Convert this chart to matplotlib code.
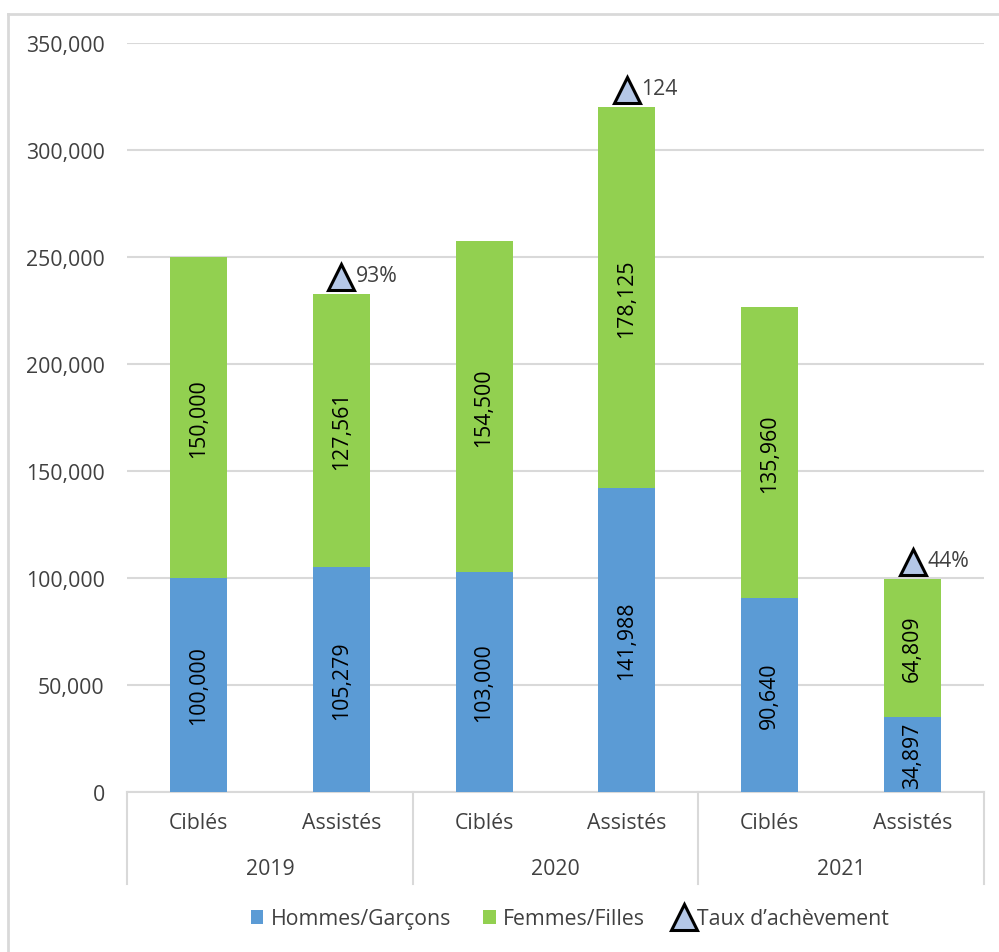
import matplotlib
matplotlib.use("Agg")
import matplotlib.pyplot as plt
from matplotlib.lines import Line2D
from matplotlib.patches import Patch
from matplotlib.ticker import FuncFormatter, MultipleLocator
from matplotlib.transforms import ScaledTranslation

plt.rcParams['font.family'] = ['Open Sans', 'DejaVu Sans']

# data
years = ['2019', '2020', '2021']
kinds = ['Ciblés', 'Assistés']
hommes = [100000, 105279, 103000, 141988, 90640, 34897]
femmes = [150000, 127561, 154500, 178125, 135960, 64809]
taux_labels = ['93%', '124', '44%']   # shown on the Assistés bars

blue = '#5b9bd5'
green = '#92d050'
grid = '#d9d9d9'
txt = '#404040'
fs = 15.3

fig = plt.figure(figsize=(9.99, 9.53), dpi=100)
ax = fig.add_axes([127/999, 1 - 793/953, (984 - 127)/999, (793 - 44)/953])

x = list(range(len(hommes)))
ax.bar(x, hommes, 0.4, color=blue, zorder=3)
ax.bar(x, femmes, 0.4, bottom=hommes, color=green, zorder=3)

# rotated values inside segments
for i in x:
    ax.text(i, hommes[i] / 2, f'{hommes[i]:,}', rotation=90, ha='center',
            va='center', fontsize=fs, color='black', zorder=4)
    ax.text(i, hommes[i] + femmes[i] / 2, f'{femmes[i]:,}', rotation=90,
            ha='center', va='center', fontsize=fs, color='black', zorder=4)

# completion markers on top of the "Assistés" bars
lift = ax.transData + ScaledTranslation(0, 12.3/72, fig.dpi_scale_trans)
for k, lab in enumerate(taux_labels):
    i = 2 * k + 1
    top = hommes[i] + femmes[i]
    ax.plot([i], [top], marker='^', markersize=19, markerfacecolor='#b4c7e7',
            markeredgecolor='black', markeredgewidth=2.2, linestyle='none',
            zorder=5, clip_on=False, transform=lift)
    ax.annotate(lab, xy=(i, top), xytext=(10.5, 13), textcoords='offset points',
                ha='left', va='center', fontsize=fs, color=txt)

ax.set_xlim(-0.5, 5.5)
ax.set_ylim(0, 350000)
ax.yaxis.set_major_locator(MultipleLocator(50000))
ax.yaxis.set_major_formatter(FuncFormatter(lambda v, p: f'{int(v):,}'))
ax.yaxis.grid(True, color=grid, linewidth=1.5, zorder=0)
ax.tick_params(axis='y', length=0, labelsize=fs, labelcolor=txt, pad=16)
ax.tick_params(axis='x', length=0, labelbottom=False)
for s in ['left', 'right', 'top']:
    ax.spines[s].set_visible(False)
ax.spines['bottom'].set_color(grid)
ax.spines['bottom'].set_linewidth(1.5)

# two-level category axis
trans = ax.get_xaxis_transform()
depth = 92 / 749
for xs in [-0.5, 1.5, 3.5, 5.5]:
    ax.plot([xs, xs], [0, -depth], color=grid, linewidth=1.5,
            transform=trans, clip_on=False)
for i in x:
    ax.text(i, -31 / 749, kinds[i % 2], transform=trans, ha='center',
            va='center', fontsize=fs, color=txt)
for k, yr in enumerate(years):
    ax.text(2 * k + 0.5, -77 / 749, yr, transform=trans, ha='center',
            va='center', fontsize=fs, color=txt)

handles = [Patch(facecolor=blue), Patch(facecolor=green),
           Line2D([], [], marker='^', markersize=19, markerfacecolor='#b4c7e7',
                  markeredgecolor='black', markeredgewidth=2.2, linestyle='none')]
fig.legend(handles, ['Hommes/Garçons', 'Femmes/Filles', 'Taux d’achèvement'],
           loc='center', bbox_to_anchor=(570 / 999, 1 - 920 / 953), ncol=3,
           frameon=False, fontsize=fs, handlelength=0.6, handleheight=0.6,
           handletextpad=0.35, columnspacing=1.5, labelcolor=txt)

# outer frame (left and top edges only)
fig.add_artist(Line2D([8/999, 8/999], [0, 1 - 15/953], color=grid,
                      linewidth=2, transform=fig.transFigure))
fig.add_artist(Line2D([8/999, 1], [1 - 15/953, 1 - 15/953], color=grid,
                      linewidth=2, transform=fig.transFigure))

fig.savefig('out.png', dpi=100)
